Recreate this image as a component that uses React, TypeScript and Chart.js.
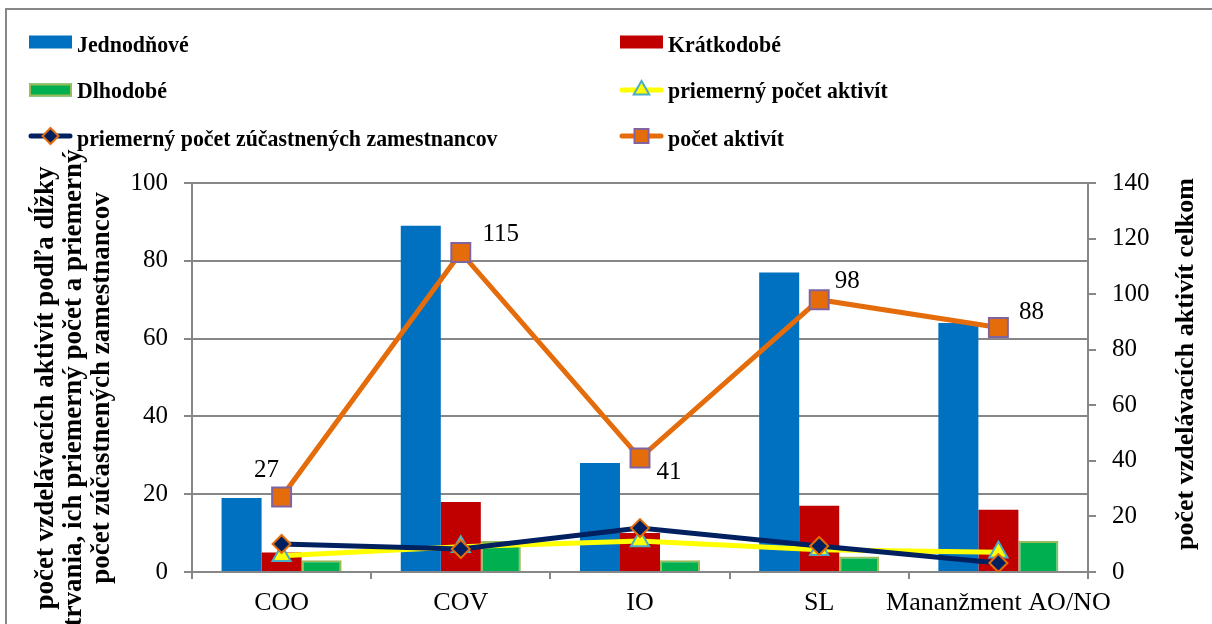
import React, { useEffect, useRef } from 'react';
import { Chart, registerables } from 'chart.js';

Chart.register(...registerables);

const categories = ['COO', 'COV', 'IO', 'SL', 'Mananžment AO/NO'];
const jednodnove = [19, 89, 28, 77, 64];
const kratkodobe = [5, 18, 10, 17, 16];
const dlhodobe = [3, 8, 3, 4, 8];
const priemernyPocetAktivit = [4.2, 6.5, 8, 5.7, 5.1];
const priemernyPocetZamestnancov = [7.2, 5.9, 11.3, 6.7, 2.3];
const pocetAktivit = [27, 115, 41, 98, 88];

const seriesNames = [
  'Jednodňové',
  'Krátkodobé',
  'Dlhodobé',
  'priemerný počet aktivít',
  'priemerný počet zúčastnených zamestnancov',
  'počet aktivít',
];

const leftAxisTitle = [
  'počet vzdelávacích aktivít podľa dĺžky',
  'trvania, ich priemerný počet a priemerný',
  'počet zúčastnených zamestnancov',
];
const rightAxisTitle = 'počet vzdelávacích aktivít celkom';

const leftMin = 0;
const leftMax = 100;
const rightMin = 0;
const rightMax = 140;
const tickStep = 20;

const SERIF = "'Liberation Serif', 'Times New Roman', serif";
const GRAY = '#878787';

// offsets of data labels (label centre relative to point)
const labelOffsets = [
  [-15, -27],
  [40, -18],
  [29, 14],
  [28, -18],
  [33, -15],
];

function drawMarker(ctx: CanvasRenderingContext2D, style: string, x: number, y: number, r: number, fill: string, stroke: string, bw: number) {
  ctx.save();
  ctx.beginPath();
  if (style === 'rect') {
    ctx.rect(x - r, y - r, 2 * r, 2 * r);
  } else if (style === 'rectRot') {
    ctx.moveTo(x, y - r);
    ctx.lineTo(x + r, y);
    ctx.lineTo(x, y + r);
    ctx.lineTo(x - r, y);
    ctx.closePath();
  } else if (style === 'triangle') {
    ctx.moveTo(x, y - r);
    ctx.lineTo(x + r * 0.866, y + r * 0.5);
    ctx.lineTo(x - r * 0.866, y + r * 0.5);
    ctx.closePath();
  }
  ctx.fillStyle = fill;
  ctx.fill();
  ctx.lineWidth = bw;
  ctx.strokeStyle = stroke;
  ctx.stroke();
  ctx.restore();
}

const decorPlugin = {
  id: 'decor',
  beforeDraw(chart: any) {
    const ctx = chart.ctx as CanvasRenderingContext2D;
    ctx.save();
    ctx.fillStyle = '#ffffff';
    ctx.fillRect(0, 0, chart.width, chart.height);
    ctx.strokeStyle = GRAY;
    ctx.lineWidth = 2;
    ctx.strokeRect(6, 9, chart.width + 40, chart.height + 40);
    ctx.restore();
  },
  afterDatasetsDraw(chart: any) {
    const ctx = chart.ctx as CanvasRenderingContext2D;
    const meta = chart.getDatasetMeta(5);
    ctx.save();
    ctx.font = `25px ${SERIF}`;
    ctx.fillStyle = '#000';
    ctx.textAlign = 'center';
    ctx.textBaseline = 'middle';
    meta.data.forEach((pt: any, i: number) => {
      const off = labelOffsets[i] || [20, -18];
      ctx.fillText(String(pocetAktivit[i]), pt.x + off[0], pt.y + off[1]);
    });
    ctx.restore();
  },
  afterDraw(chart: any) {
    const ctx = chart.ctx as CanvasRenderingContext2D;
    // Legend
    const colX = [29, 620];
    const rowCY = [42, 90, 136];
    const rowBase = [52, 98, 146];
    chart.data.datasets.forEach((ds: any, i: number) => {
      const col = i % 2;
      const row = Math.floor(i / 2);
      const x0 = colX[col];
      const cy = rowCY[row];
      ctx.save();
      if (ds.type === 'line') {
        ctx.strokeStyle = ds.borderColor;
        ctx.lineWidth = ds.borderWidth;
        ctx.lineCap = 'round';
        ctx.beginPath();
        ctx.moveTo(x0 + 2, cy);
        ctx.lineTo(x0 + 41, cy);
        ctx.stroke();
        const r = ds.pointStyle === 'rect' ? 7 : ds.pointStyle === 'rectRot' ? 8 : 9;
        drawMarker(ctx, ds.pointStyle, x0 + 21.5, cy, r, ds.pointBackgroundColor, ds.pointBorderColor, 2);
      } else {
        ctx.fillStyle = ds.backgroundColor;
        ctx.fillRect(x0, cy - 6.5, 43, 13);
        if (ds.borderWidth) {
          ctx.strokeStyle = ds.borderColor;
          ctx.lineWidth = ds.borderWidth;
          ctx.strokeRect(x0 + 1, cy - 5.5, 41, 11);
        }
      }
      ctx.font = `bold 23px ${SERIF}`;
      ctx.fillStyle = '#000';
      ctx.textAlign = 'left';
      ctx.textBaseline = 'alphabetic';
      const sx = 0.95;
      ctx.translate(x0 + 48, rowBase[row]);
      ctx.scale(sx, 1);
      ctx.fillText(ds.label, 0, 0);
      ctx.restore();
    });

    // Axis titles
    ctx.save();
    ctx.font = `bold 27px ${SERIF}`;
    ctx.fillStyle = '#000';
    ctx.textAlign = 'center';
    ctx.textBaseline = 'middle';
    leftAxisTitle.forEach((line, i) => {
      ctx.save();
      ctx.translate(46 + 28 * i, 388);
      ctx.rotate(-Math.PI / 2);
      ctx.fillText(line, 0, 0);
      ctx.restore();
    });
    ctx.font = `bold 26px ${SERIF}`;
    ctx.save();
    ctx.translate(1186, 364);
    ctx.rotate(-Math.PI / 2);
    ctx.fillText(rightAxisTitle, 0, 0);
    ctx.restore();
    ctx.restore();
  },
};

export default function App() {
  const canvasRef = useRef<HTMLCanvasElement | null>(null);

  useEffect(() => {
    if (!canvasRef.current) return;
    const chart = new Chart(canvasRef.current, {
      type: 'bar',
      data: {
        labels: categories,
        datasets: [
          {
            type: 'bar',
            label: seriesNames[0],
            data: jednodnove,
            backgroundColor: '#0070C0',
            borderWidth: 0,
            yAxisID: 'y',
            order: 3,
          },
          {
            type: 'bar',
            label: seriesNames[1],
            data: kratkodobe,
            backgroundColor: '#C00000',
            borderWidth: 0,
            yAxisID: 'y',
            order: 3,
          },
          {
            type: 'bar',
            label: seriesNames[2],
            data: dlhodobe,
            backgroundColor: '#00B050',
            borderColor: '#9BBB59',
            borderWidth: 2,
            yAxisID: 'y',
            order: 3,
          },
          {
            type: 'line',
            label: seriesNames[3],
            data: priemernyPocetAktivit,
            borderColor: '#FFFF00',
            borderWidth: 5,
            pointStyle: 'triangle',
            pointRadius: 10.5,
            pointBackgroundColor: '#FFFF00',
            pointBorderColor: '#4BACC6',
            pointBorderWidth: 2,
            tension: 0,
            yAxisID: 'y',
            order: 2,
          },
          {
            type: 'line',
            label: seriesNames[4],
            data: priemernyPocetZamestnancov,
            borderColor: '#002060',
            borderWidth: 5,
            pointStyle: 'rectRot',
            pointRadius: 9,
            pointBackgroundColor: '#002060',
            pointBorderColor: '#E46C0A',
            pointBorderWidth: 2,
            tension: 0,
            yAxisID: 'y',
            order: 1,
          },
          {
            type: 'line',
            label: seriesNames[5],
            data: pocetAktivit,
            borderColor: '#E46C0A',
            borderWidth: 5,
            pointStyle: 'rect',
            pointRadius: 13.4,
            pointBackgroundColor: '#E46C0A',
            pointBorderColor: '#8064A2',
            pointBorderWidth: 2,
            tension: 0,
            yAxisID: 'y1',
            order: 0,
          },
        ] as any,
      },
      options: {
        responsive: false,
        animation: false,
        devicePixelRatio: 1,
        layout: { padding: { top: 183, left: 0, right: 0, bottom: 0 } },
        datasets: {
          bar: { categoryPercentage: 0.67, barPercentage: 1 },
        },
        plugins: {
          legend: { display: false },
          tooltip: { enabled: false },
          title: { display: false },
        },
        scales: {
          x: {
            offset: true,
            grid: {
              offset: true,
              drawOnChartArea: false,
              drawTicks: true,
              tickLength: 7,
              color: GRAY,
              lineWidth: 2,
            },
            border: { color: GRAY, width: 2 },
            ticks: {
              font: { family: SERIF, size: 26 },
              color: '#000',
              padding: 9,
              maxRotation: 0,
              autoSkip: false,
            },
            afterFit: (s: any) => {
              s.height = 52;
            },
          },
          y: {
            position: 'left',
            min: leftMin,
            max: leftMax,
            ticks: {
              stepSize: tickStep,
              font: { family: SERIF, size: 25 },
              color: '#000',
              padding: 16,
            },
            grid: { color: GRAY, lineWidth: 2, tickLength: 8 },
            border: { color: GRAY, width: 2 },
            afterFit: (s: any) => {
              s.width = 192;
            },
          },
          y1: {
            position: 'right',
            min: rightMin,
            max: rightMax,
            ticks: {
              stepSize: tickStep,
              font: { family: SERIF, size: 25 },
              color: '#000',
              padding: 16,
            },
            grid: { drawOnChartArea: false, color: GRAY, lineWidth: 2, tickLength: 8 },
            border: { color: GRAY, width: 2 },
            afterFit: (s: any) => {
              s.width = 124;
            },
          },
        },
      } as any,
      plugins: [decorPlugin],
    });
    return () => chart.destroy();
  }, []);

  return (
    <div style={{ position: 'absolute', left: 0, top: 0, width: 1212, height: 624, overflow: 'hidden' }}>
      <canvas ref={canvasRef} width={1212} height={624} style={{ display: 'block' }} />
    </div>
  );
}
